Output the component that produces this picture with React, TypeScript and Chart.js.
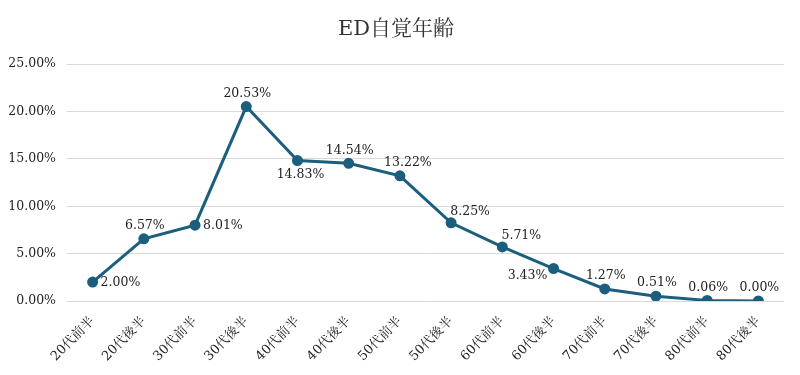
import React, { useEffect, useRef } from "react";
import { Chart, registerables } from "chart.js";

Chart.register(...registerables);

const categories = [
  "20代前半", "20代後半", "30代前半", "30代後半", "40代前半", "40代後半", "50代前半",
  "50代後半", "60代前半", "60代後半", "70代前半", "70代後半", "80代前半", "80代後半",
];
const values = [2.0, 6.57, 8.01, 20.53, 14.83, 14.54, 13.22, 8.25, 5.71, 3.43, 1.27, 0.51, 0.06, 0.0];
const labelPlacement = [
  "right", "above", "right", "above", "below", "above", "aboveNear",
  "aboveRight", "aboveRight", "belowLeft", "above", "above", "above", "above",
];
const yTickMax = 25;
const yTickStep = 5;

const FONT = "'DejaVu Serif', 'Noto Serif CJK JP', 'Noto Sans CJK JP', serif";
const LINE = "#1b5e7e";

const labelPlugin = {
  id: "pointLabels",
  afterDatasetsDraw(chart: any) {
    const ctx = chart.ctx;
    const meta = chart.getDatasetMeta(0);
    ctx.save();
    ctx.font = `12.5px ${FONT}`;
    ctx.fillStyle = "#222";
    ctx.textBaseline = "middle";
    const offs: Record<string, [number, number, CanvasTextAlign]> = {
      right: [8, 1, "left"],
      above: [1, -13, "center"],
      aboveNear: [8, -13, "center"],
      aboveRight: [19, -11, "center"],
      below: [3, 14, "center"],
      belowLeft: [-26, 7, "center"],
    };
    meta.data.forEach((pt: any, i: number) => {
      const [dx, dy, align] = offs[labelPlacement[i]];
      ctx.textAlign = align;
      ctx.fillText(values[i].toFixed(2) + "%", pt.x + dx, pt.y + dy);
    });
    ctx.restore();
  },
};

export default function App() {
  const ref = useRef<HTMLCanvasElement | null>(null);
  useEffect(() => {
    document.body.style.margin = "0";
    const chart = new Chart(ref.current!, {
      type: "line",
      data: {
        labels: categories,
        datasets: [
          {
            data: values,
            borderColor: LINE,
            backgroundColor: LINE,
            borderWidth: 3,
            pointRadius: 4,
            pointBackgroundColor: LINE,
            pointBorderColor: LINE,
            tension: 0,
          },
        ],
      },
      options: {
        animation: false,
        responsive: false,
        layout: { padding: { left: 8, right: 16, top: 0, bottom: 0 } },
        plugins: {
          legend: { display: false },
          tooltip: { enabled: false },
          title: {
            display: true,
            text: "ED自覚年齢",
            color: "#333",
            font: { family: FONT, size: 21, weight: "normal" },
            padding: { top: 17, bottom: 22 },
          },
        },
        scales: {
          x: {
            offset: true,
            grid: { display: false, drawTicks: false },
            border: { display: false },
            ticks: {
              color: "#222",
              font: { family: FONT, size: 13 },
              maxRotation: 45,
              minRotation: 45,
              padding: 13,
              autoSkip: false,
            },
            afterFit: (s: any) => {
              s.height = 74;
            },
          },
          y: {
            min: 0,
            max: yTickMax,
            grid: { color: "#d9d9d9", lineWidth: 1, drawTicks: false },
            border: { display: false },
            ticks: {
              stepSize: yTickStep,
              padding: 11,
              color: "#222",
              font: { family: FONT, size: 12.5 },
              callback: (v: any) => Number(v).toFixed(2) + "%",
            },
            afterFit: (s: any) => {
              s.width = 59;
            },
          },
        },
      },
      plugins: [labelPlugin],
    });
    return () => chart.destroy();
  }, []);
  return (
    <div style={{ width: 800, height: 375 }}>
      <canvas ref={ref} width={800} height={375} />
    </div>
  );
}
